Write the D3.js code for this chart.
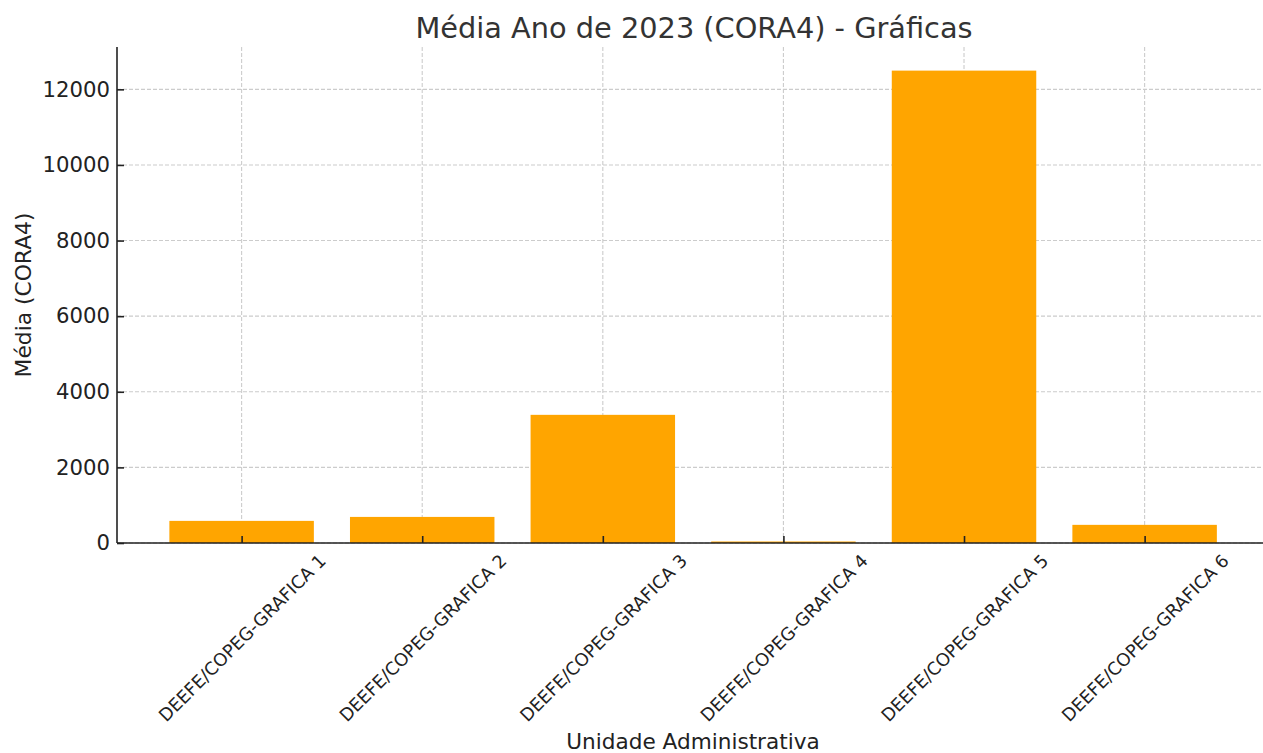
<!DOCTYPE html>
<html><head><meta charset="utf-8">
<script src="https://cdn.jsdelivr.net/npm/d3@7"></script>
<style>
html,body{margin:0;padding:0;background:#fff;}
svg{display:block;font-family:"DejaVu Sans",sans-serif;}
</style></head>
<body>
<svg id="chart" width="1263" height="753"></svg>
<script>
const categories = ["DEEFE/COPEG-GRAFICA 1","DEEFE/COPEG-GRAFICA 2","DEEFE/COPEG-GRAFICA 3","DEEFE/COPEG-GRAFICA 4","DEEFE/COPEG-GRAFICA 5","DEEFE/COPEG-GRAFICA 6"];
const values = [585, 690, 3390, 40, 12495, 480];
const yTicks = [0, 2000, 4000, 6000, 8000, 10000, 12000];
const title = "Média Ano de 2023 (CORA4) - Gráficas";
const xTitle = "Unidade Administrativa";
const yTitle = "Média (CORA4)";

(function(){
const svg = d3.select("#chart");
const mLeft = 117, mBottom = 543, mTop = 47, mRight = 1263;
const barW = 0.8;
const maxV = d3.max(values);
const yMax = maxV * 1.05;
const x = d3.scaleLinear().domain([-0.4 - 0.29, 5.4 + 0.29]).range([mLeft, mLeft + 6.38 * 180.6]);
const y = d3.scaleLinear().domain([0, yMax]).range([mBottom, mTop]);

// grid
const grid = svg.append("g");
grid.selectAll("line.gy").data(yTicks).join("line")
  .attr("x1", mLeft).attr("x2", mRight)
  .attr("y1", d => y(d)).attr("y2", d => y(d))
  .attr("stroke", "#cccccc").attr("stroke-width", 1.1).attr("stroke-dasharray", "4,2");
grid.selectAll("line.gx").data(categories).join("line")
  .attr("x1", (d,i) => x(i)).attr("x2", (d,i) => x(i))
  .attr("y1", mTop).attr("y2", mBottom)
  .attr("stroke", "#cccccc").attr("stroke-width", 1.1).attr("stroke-dasharray", "4,2");

// bars
svg.append("g").selectAll("rect").data(values).join("rect")
  .attr("x", (d,i) => x(i - barW/2))
  .attr("width", (d,i) => x(i + barW/2) - x(i - barW/2))
  .attr("y", d => y(d))
  .attr("height", d => y(0) - y(d))
  .attr("fill", "#FFA500");

// y axis
const yAxis = d3.axisLeft(y).tickValues(yTicks).tickFormat(d3.format("d")).tickSizeInner(-7).tickSizeOuter(0).tickPadding(7);
const ya = svg.append("g").attr("transform", `translate(${mLeft},0)`).call(yAxis);
ya.select(".domain").attr("d", `M0,${mTop}V${mBottom}`).attr("stroke", "#222").attr("stroke-width", 1.6);
ya.selectAll(".tick line").attr("stroke", "#222").attr("stroke-width", 1.6);
ya.selectAll(".tick text").attr("font-size", 21.2).attr("fill", "#222").attr("font-family", "DejaVu Sans");

// x axis
const fsX = 17.8;
const xAxis = d3.axisBottom(x).tickValues(d3.range(categories.length)).tickSizeInner(-7).tickSizeOuter(0).tickFormat(i => categories[i]);
const xa = svg.append("g").attr("transform", `translate(0,${mBottom})`).call(xAxis);
xa.select(".domain").attr("d", `M${mLeft},0H${mRight}`).attr("stroke", "#222").attr("stroke-width", 1.6);
xa.selectAll(".tick line").attr("stroke", "#222").attr("stroke-width", 1.6);
xa.selectAll(".tick text")
  .attr("font-size", fsX).attr("fill", "#222").attr("font-family", "DejaVu Sans")
  .attr("text-anchor", "middle").attr("dy", null).attr("dominant-baseline", "central")
  .each(function() {
    const t = d3.select(this);
    const L = this.getComputedTextLength();
    const h = fsX * 1.17;
    const bh = (L + h) * Math.SQRT1_2;
    const cy = 7 + bh / 2;
    t.attr("y", cy).attr("transform", `rotate(-45,0,${cy})`);
  });

// titles
svg.append("text").attr("x", 694).attr("y", 38).attr("text-anchor", "middle")
  .attr("font-size", 28.8).attr("fill", "#333").text(title);
svg.append("text").attr("x", 693).attr("y", 749).attr("text-anchor", "middle")
  .attr("font-size", 21.6).attr("fill", "#222").text(xTitle);
svg.append("text").attr("transform", `translate(31,${(mTop+mBottom)/2}) rotate(-90)`).attr("text-anchor", "middle")
  .attr("font-size", 21.8).attr("fill", "#222").text(yTitle);
})();
</script>
</body></html>
